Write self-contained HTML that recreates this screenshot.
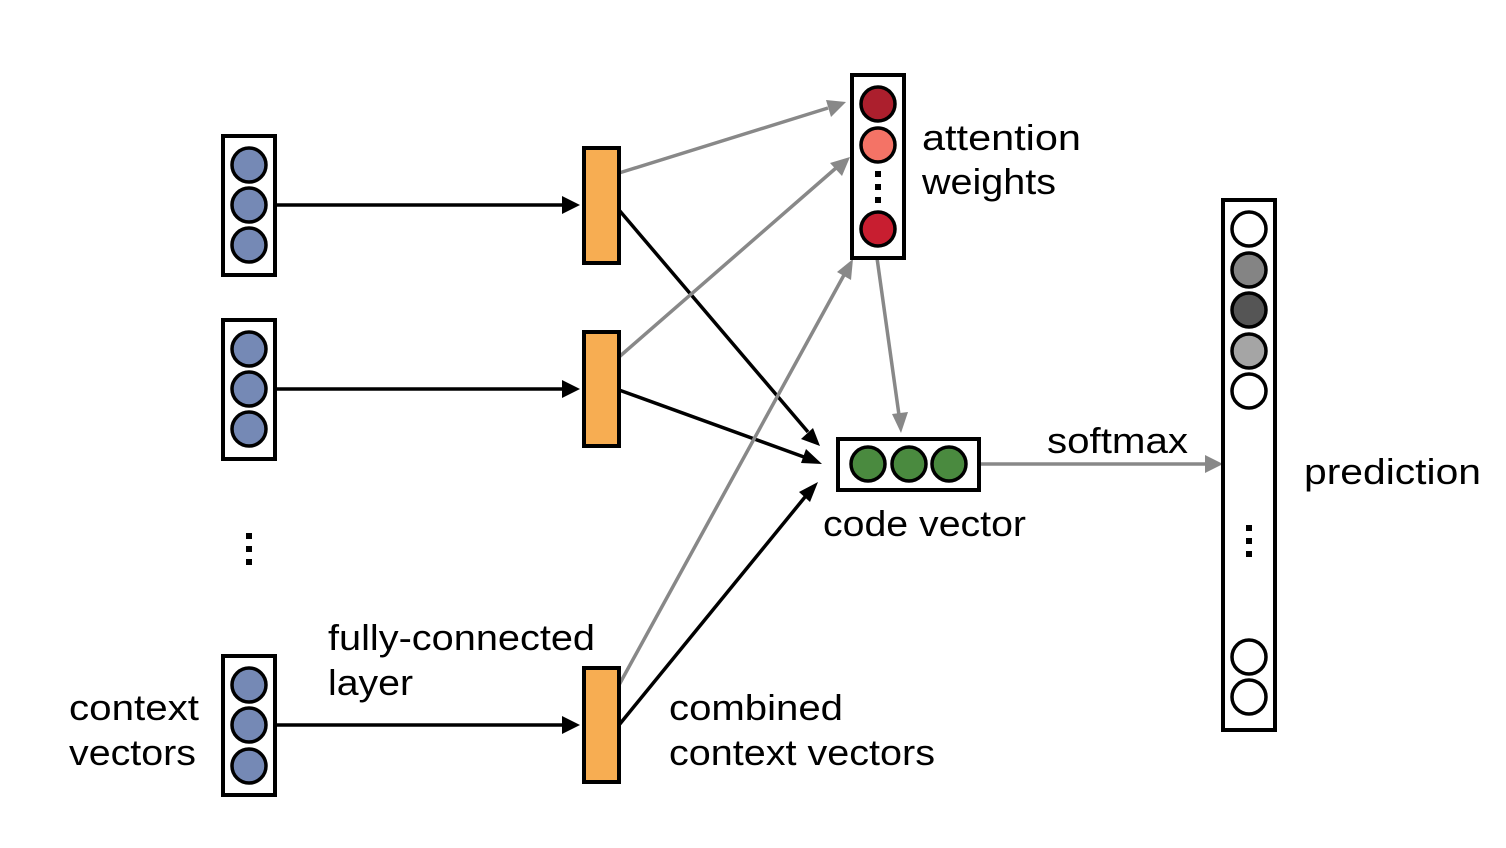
<!DOCTYPE html>
<html><head><style>
html,body{margin:0;padding:0;background:#fff;}
svg{display:block;}
text{font-family:"Liberation Sans",sans-serif;font-size:36px;fill:#000;}
</style></head><body>
<svg width="1506" height="848" viewBox="0 0 1506 848" xmlns="http://www.w3.org/2000/svg">
<g stroke="#000" stroke-width="3.5" fill="none">
<line x1="275" y1="205" x2="562" y2="205"/>
<line x1="275" y1="389" x2="562" y2="389"/>
<line x1="275" y1="725" x2="562" y2="725"/>
<line x1="619" y1="210" x2="808" y2="432"/>
<line x1="619" y1="390" x2="804" y2="457"/>
<line x1="619" y1="725" x2="805" y2="497"/>
</g>
<g fill="#000">
<path d="M580,205 L562,196 L562,214z"/>
<path d="M580,389 L562,380 L562,398z"/>
<path d="M580,725 L562,716 L562,734z"/>
<path d="M820,446 L801,439 L813,428z"/>
<path d="M822,464 L801,463 L806,449z"/>
<path d="M818,482 L810,502 L799,492z"/>
</g>
<g stroke="#888" stroke-width="3.5" fill="none">
<line x1="619" y1="173" x2="828" y2="108"/>
<line x1="619" y1="357" x2="836" y2="168"/>
<line x1="619" y1="685" x2="844" y2="275"/>
<line x1="877" y1="258" x2="899" y2="415"/>
<line x1="979" y1="464" x2="1205" y2="464"/>
</g>
<g fill="#888">
<path d="M846,102 L831,117 L826,100z"/>
<path d="M850,157 L842,176 L830,163z"/>
<path d="M853,259 L851,280 L837,272z"/>
<path d="M901,433 L892,414 L908,412z"/>
<path d="M1223,464 L1205,455 L1205,473z"/>
</g>
<g stroke="#000" stroke-width="4">
<rect x="223" y="136" width="52" height="139" fill="#fff"/>
<rect x="223" y="320" width="52" height="139" fill="#fff"/>
<rect x="223" y="656" width="52" height="139" fill="#fff"/>
<g fill="#7589b5" stroke-width="3.5">
<circle cx="249" cy="165" r="17"/><circle cx="249" cy="205" r="17"/><circle cx="249" cy="245" r="17"/>
<circle cx="249" cy="349" r="17"/><circle cx="249" cy="389" r="17"/><circle cx="249" cy="429" r="17"/>
<circle cx="249" cy="685" r="17"/><circle cx="249" cy="725" r="17"/><circle cx="249" cy="766" r="17"/>
</g>
<rect x="584" y="148" width="35" height="115" fill="#f7ad52"/>
<rect x="584" y="332" width="35" height="114" fill="#f7ad52"/>
<rect x="584" y="668" width="35" height="114" fill="#f7ad52"/>
<rect x="852" y="75" width="52" height="183" fill="#fff"/>
<circle cx="878" cy="104" r="17" fill="#ac1f2d" stroke-width="3.5"/>
<circle cx="878" cy="145" r="17" fill="#f47366" stroke-width="3.5"/>
<circle cx="878" cy="229" r="17" fill="#c81e30" stroke-width="3.5"/>
<rect x="838" y="439" width="141" height="51" fill="#fff"/>
<g fill="#4a8a3f" stroke-width="3.5">
<circle cx="868" cy="464" r="17"/><circle cx="909" cy="464" r="17"/><circle cx="949" cy="464" r="17"/>
</g>
<rect x="1223" y="200" width="52" height="530" fill="#fff"/>
<g stroke-width="3.5">
<circle cx="1249" cy="229" r="17" fill="#fff"/>
<circle cx="1249" cy="270" r="17" fill="#848484"/>
<circle cx="1249" cy="310" r="17" fill="#555"/>
<circle cx="1249" cy="351" r="17" fill="#a5a5a5"/>
<circle cx="1249" cy="391" r="17" fill="#fff"/>
<circle cx="1249" cy="657" r="17" fill="#fff"/>
<circle cx="1249" cy="697" r="17" fill="#fff"/>
</g>
</g>
<g fill="#000">
<rect x="875" y="171" width="6" height="6"/><rect x="875" y="184" width="6" height="6"/><rect x="875" y="197" width="6" height="6"/>
<rect x="246" y="533" width="6" height="6"/><rect x="246" y="546" width="6" height="6"/><rect x="246" y="559" width="6" height="6"/>
<rect x="1246" y="525" width="6" height="6"/><rect x="1246" y="538" width="6" height="6"/><rect x="1246" y="551" width="6" height="6"/>
</g>
<text x="922" y="150" textLength="159" lengthAdjust="spacingAndGlyphs">attention</text>
<text x="922" y="194" textLength="134" lengthAdjust="spacingAndGlyphs">weights</text>
<text x="1047" y="453" textLength="141" lengthAdjust="spacingAndGlyphs">softmax</text>
<text x="1304" y="484" textLength="177" lengthAdjust="spacingAndGlyphs">prediction</text>
<text x="823" y="536" textLength="203" lengthAdjust="spacingAndGlyphs">code vector</text>
<text x="328" y="650" textLength="267" lengthAdjust="spacingAndGlyphs">fully-connected</text>
<text x="328" y="695" textLength="85" lengthAdjust="spacingAndGlyphs">layer</text>
<text x="69" y="720" textLength="130" lengthAdjust="spacingAndGlyphs">context</text>
<text x="69" y="765" textLength="127" lengthAdjust="spacingAndGlyphs">vectors</text>
<text x="669" y="720" textLength="174" lengthAdjust="spacingAndGlyphs">combined</text>
<text x="669" y="765" textLength="266" lengthAdjust="spacingAndGlyphs">context vectors</text>
</svg>
</body></html>
